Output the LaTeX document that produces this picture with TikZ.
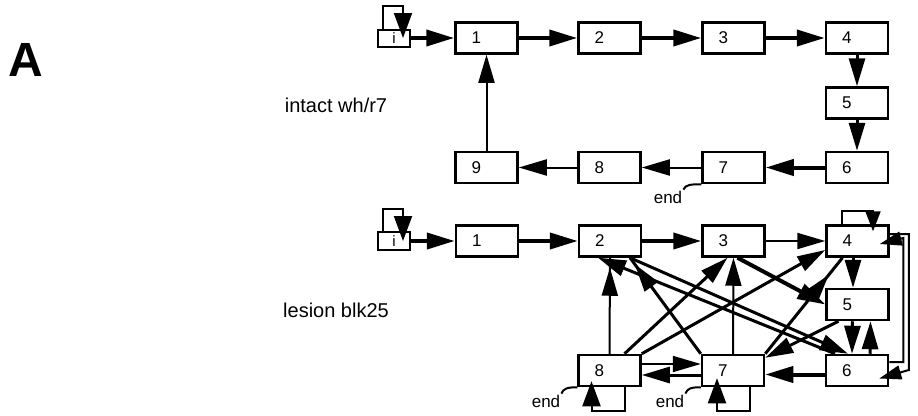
\documentclass[tikz,border=0pt]{standalone}
\usepackage{fontspec}
\setmainfont{Liberation Sans}
\usetikzlibrary{arrows.meta,decorations.markings,calc}
\newcommand{\boxlab}[1]{\makebox[30pt][l]{#1}}
\begin{document}
\begin{tikzpicture}[x=1pt,y=-1pt,
  >={Triangle[length=28pt,width=16pt]},
  box/.style={draw,line width=2.5pt,minimum width=62pt,minimum height=31pt,inner sep=0pt,font=\fontsize{17}{20}\selectfont},
  ibox/.style={draw,line width=2pt,minimum width=32pt,minimum height=17pt,inner sep=0pt,font=\fontsize{15}{18}\selectfont},
  lbl/.style={inner sep=1pt,font=\fontsize{17}{20}\selectfont},
  side/.style={inner sep=1pt,font=\fontsize{20}{24}\selectfont},
  thk/.style={line width=4pt},
  mid/.style={line width=3pt},
  thn/.style={line width=2pt},
  looptip/.style={-{Triangle[length=25pt,width=18pt]}},
  sidetip/.style={-{Triangle[length=22pt,width=14pt]}},
  tipat/.style={postaction={decorate,decoration={markings,mark=at position #1 with {\arrow{>}}}}},
]
\useasboundingbox (0,0) rectangle (918,415);

% labels
\node[font=\fontsize{48}{50}\selectfont\bfseries] (lA) at (26,60) {A};
\node[side] (lint) at (336,105) {intact wh/r7};
\node[side] (lles) at (336,310) {lesion blk25};

% top graph
\node[ibox] (ti) at (394,38) {i};
\node[box] (t1) at (486.5,38) {\boxlab{1}};
\node[box] (t2) at (609.5,38) {\boxlab{2}};
\node[box] (t3) at (733.5,38) {\boxlab{3}};
\node[box] (t4) at (857,38) {\boxlab{4}};
\node[box] (t5) at (857,103) {\boxlab{5}};
\node[box] (t6) at (857,167.5) {\boxlab{6}};
\node[box] (t7) at (733.5,167.5) {\boxlab{7}};
\node[box] (t8) at (609.5,167.5) {\boxlab{8}};
\node[box] (t9) at (486.5,167.5) {\boxlab{9}};
\node[lbl] (tend) at (668,197) {end};

\draw[thn,looptip] ([xshift=-11pt]ti.north) -- ++(0,-23) -| ([xshift=9pt]ti.center);
\draw[thk,->] (ti) -- (t1);
\draw[thk,->] (t1) -- (t2);
\draw[thk,->] (t2) -- (t3);
\draw[thk,->] (t3) -- (t4);
\draw[mid,->] (t4) -- (t5);
\draw[mid,->] (t5) -- (t6);
\draw[thk,->] (t6) -- (t7);
\draw[thn,->] (t7) -- (t8);
\draw[thn,->] (t8) -- (t9);
\draw[thn,->] (t9) -- (t1);
\draw[thn] (t7.south west) .. controls +(-10,0) and +(2,-5) .. (tend.north east);

% lower graph
\node[ibox,minimum height=18pt] (li) at (394,241) {i};
\node[box] (l1) at (487,241) {\boxlab{1}};
\node[box] (l2) at (610,241) {\boxlab{2}};
\node[box] (l3) at (733.5,241) {\boxlab{3}};
\node[box] (l4) at (857.5,241) {\boxlab{4}};
\node[box] (l5) at (857.5,304.5) {\boxlab{5}};
\node[box] (l6) at (857,370.5) {\boxlab{6}};
\node[box] (l7) at (733,370.5) {\boxlab{7}};
\node[box] (l8) at (609.5,370.5) {\boxlab{8}};
\node[lbl] (lend8) at (546,401) {end};
\node[lbl] (lend7) at (670,401) {end};

\draw[thn,looptip] ([xshift=-11pt]li.north) -- ++(0,-22) -| ([xshift=9pt]li.center);
\draw[thk,->] (li) -- (l1);
\draw[thk,->] (l1) -- (l2);
\draw[thk,->] (l2) -- (l3);
\draw[thn,->] (l3) -- (l4);
\draw[thn,-{Triangle[length=20pt,width=15pt]}] ([xshift=-15.5pt]l4.north) -- ++(0,-13) -| ([xshift=15.5pt,yshift=-7pt]l4.north);
\draw[mid,->] ([xshift=-4.5pt]l4.south) -- ([xshift=-4.5pt]l5.north);
\draw[mid,->] ([xshift=-5pt]l5.south) -- ([xshift=-5pt]l6.north);
\draw[mid,->] ([xshift=13pt]l6.north) -- ([xshift=13pt]l5.south);
\draw[thk,->] ([yshift=-4pt]l6.west) -- ([yshift=-4pt]l7.east);
\draw[thn,->] ([yshift=6.5pt]l8.east) -- ([yshift=6.5pt]l7.west);
\draw[mid,->] ([yshift=-4.5pt]l7.west) -- ([yshift=-4.5pt]l8.east);
\draw[thn,tipat=-10pt] (l8.north) -- (l2.south);
\draw[thn,->] (l7.north) -- (l3.south);
\draw[mid,->] ([xshift=15pt]l8.north) -- ([xshift=-6pt]l3.south);
\draw[mid,->] (l8.north east) -- ([yshift=-9pt]l4.west);
\draw[mid,tipat=-8pt] (l7.north west) -- ([xshift=20pt]l2.south);
\draw[mid,tipat=-22pt] (l7.north east) -- ([xshift=-15pt]l4.south);
\draw[thk,->] ([xshift=4pt]l3.south) -- (l5.west);
\draw[mid,->] ([xshift=-19pt]l5.south) -- ([yshift=-4pt]l7.north east);
\draw[mid,->] ([xshift=20pt]l2.south) -- ([xshift=-9pt]l6.north);
\draw[mid,->] ([xshift=-22pt]l6.north) -- ([xshift=-12pt]l2.south);
\draw[thn,sidetip] ([yshift=7pt]l4.east) -- ++(19,0) -- ++(0,136) -- ([xshift=-10pt,yshift=-8pt]l6.east);
\draw[thn,sidetip] ([yshift=8.5pt]l6.east) -- ++(14,0) -- ++(0,-124) -- ([xshift=-10pt,yshift=-3pt]l4.east);
\draw[thn,looptip] ([xshift=15.5pt]l8.south) -- ++(0,24) -| ([xshift=-18pt,yshift=6pt]l8.south);
\draw[thn,looptip] ([xshift=17pt]l7.south) -- ++(0,24) -| ([xshift=-16pt,yshift=9pt]l7.south);
\draw[thn] (l8.south west) .. controls +(-10,0) and +(2,-5) .. (lend8.north east);
\draw[thn] (l7.south west) .. controls +(-10,0) and +(2,-5) .. (lend7.north east);
\end{tikzpicture}
\end{document}
